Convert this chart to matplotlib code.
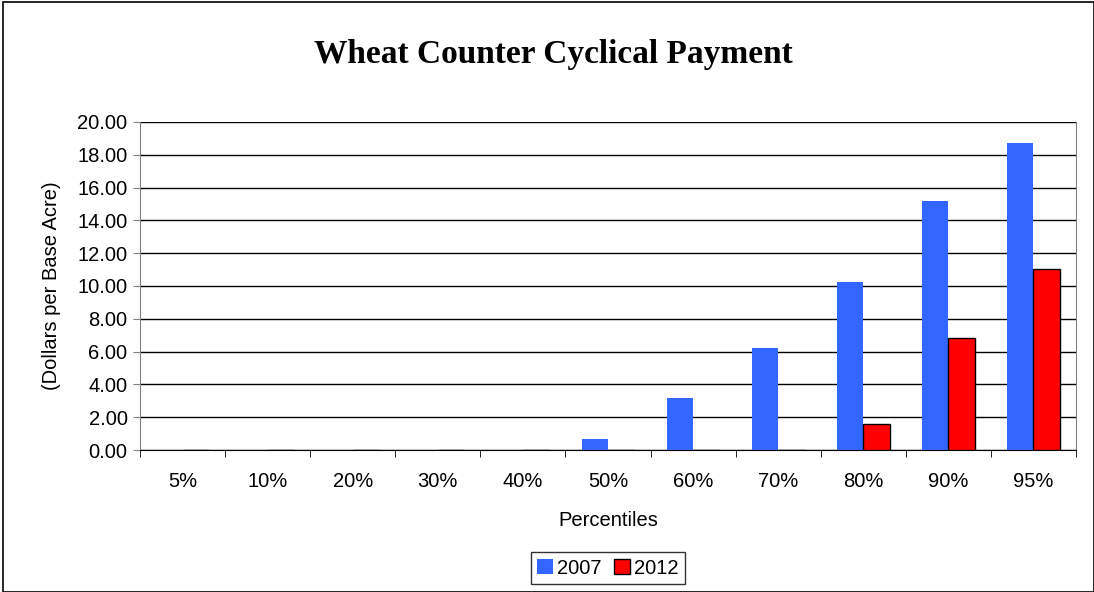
import numpy as np
import matplotlib.pyplot as plt
from matplotlib.patches import Rectangle

percentiles = ["5%", "10%", "20%", "30%", "40%", "50%", "60%", "70%", "80%", "90%", "95%"]
pay_2007 = [0, 0, 0, 0, 0, 0.65, 3.2, 6.2, 10.25, 15.2, 18.7]
pay_2012 = [0, 0, 0, 0, 0, 0, 0, 0, 1.6, 6.85, 11.05]
yticks = np.arange(0, 21, 2)

plt.rcParams['font.family'] = ['Liberation Sans', 'DejaVu Sans']
fs = 14.5

fig = plt.figure(figsize=(10.94, 5.92), dpi=100)
ax = fig.add_axes([140/1094, 1-450/592, (1076-140)/1094, (450-122)/592])

x = np.arange(len(percentiles))
w = 0.31
ax.bar(x - w/2, pay_2007, w, color='#3366FF', label='2007', zorder=3)
ax.bar(x + w/2, pay_2012, w, color='#FF0000', edgecolor='black', linewidth=1, label='2012', zorder=3)

ax.set_xlim(-0.5, len(percentiles) - 0.5)
ax.set_ylim(0, 20)
ax.set_yticks(yticks)
ax.set_yticklabels(["%.2f" % v for v in yticks], fontsize=fs)
ax.set_xticks(x)
ax.set_xticklabels(percentiles, fontsize=fs)
ax.set_xticks(np.arange(-0.5, len(percentiles)), minor=True)
ax.tick_params(axis='x', which='major', length=0, pad=16)
ax.tick_params(axis='x', which='minor', length=5, color='black')
ax.tick_params(axis='y', length=5, color='gray', pad=4)
ax.yaxis.grid(True, color='black', linewidth=1, zorder=0)
ax.set_axisbelow(True)

ax.spines['top'].set_visible(False)
ax.spines['left'].set_color('gray')
ax.spines['right'].set_color('gray')
ax.spines['bottom'].set_color('black')

ax.set_xlabel("Percentiles", fontsize=fs, labelpad=14)
ax.set_ylabel("(Dollars per Base Acre)", fontsize=fs, labelpad=12)

fig.text(553/1094, 1-55/592, "Wheat Counter Cyclical Payment", ha='center', va='center',
         fontsize=24, fontweight='bold', family='Liberation Serif')

leg = ax.legend(loc='center', bbox_to_anchor=(608/1094, 1-568/592), bbox_transform=fig.transFigure,
                ncol=2, fontsize=fs, frameon=True, fancybox=False, handlelength=0.8, handleheight=0.8,
                handletextpad=0.2, columnspacing=0.6, borderpad=0.3)
leg.get_frame().set_edgecolor('black')
leg.get_frame().set_linewidth(1)

fig.patches.append(Rectangle((3/1094, 0), 1 - 3/1094, 1 - 2/592, transform=fig.transFigure,
                             fill=False, edgecolor='black', linewidth=1.2))

fig.savefig("out.png", dpi=100)
